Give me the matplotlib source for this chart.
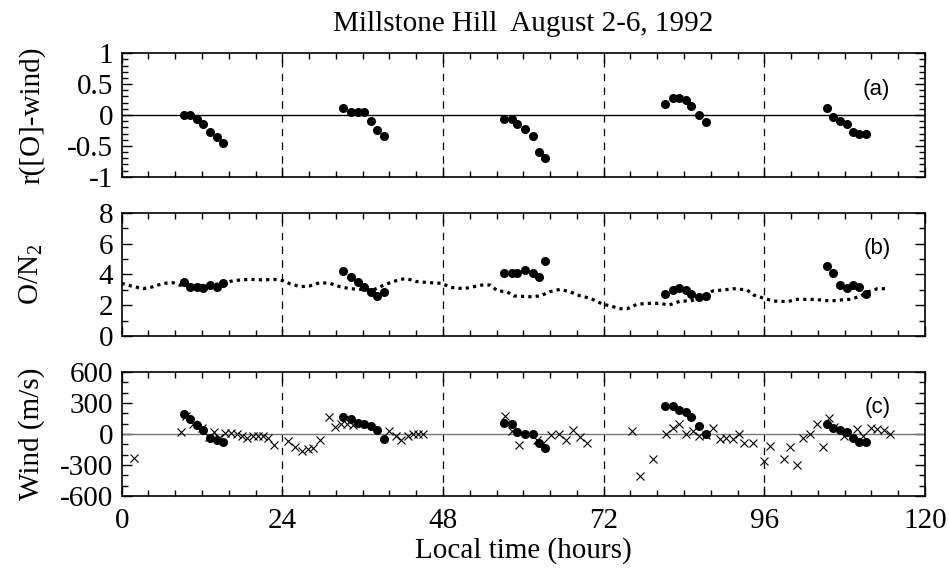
import numpy as np
import matplotlib.pyplot as plt
from matplotlib.ticker import MultipleLocator

# ---- data ----
# (a) correlation [O]-wind, 5 daily groups
corr_t = [9.3, 10.2, 11.3, 12.2, 13.2, 14.3, 15.2,
          33.1, 34.2, 35.3, 36.2, 37.3, 38.1, 39.2,
          57.1, 58.3, 59.1, 60.3, 61.4, 62.3, 63.3,
          81.2, 82.3, 83.2, 84.3, 85.1, 86.3, 87.3,
          105.3, 106.2, 107.3, 108.4, 109.2, 110.2, 111.2]
corr_v = [0.0, 0.0, -0.065, -0.15, -0.27, -0.36, -0.45,
          0.12, 0.054, 0.054, 0.054, -0.1, -0.24, -0.34,
          -0.065, -0.065, -0.15, -0.22, -0.34, -0.6, -0.69,
          0.18, 0.27, 0.27, 0.24, 0.15, 0.0, -0.12,
          0.12, -0.03, -0.09, -0.15, -0.27, -0.3, -0.3]

# (b) measured O/N2
on2_v = [3.5, 3.2, 3.2, 3.1, 3.33, 3.2, 3.46,
         4.2, 3.81, 3.5, 3.2, 2.88, 2.6, 2.86,
         4.07, 4.07, 4.07, 4.29, 4.07, 3.81, 4.89,
         2.73, 2.99, 3.1, 2.99, 2.73, 2.51, 2.6,
         4.55, 4.07, 3.33, 3.1, 3.33, 3.2, 2.73]

# (b) model O/N2 (dotted)
model_t = [0.0, 1.2, 3.2, 4.7, 6.2, 7.7, 8.7, 10.2, 13.2, 15.2, 16.7, 19.2,
           21.2, 22.7, 24.0, 25.2, 26.7, 28.1, 29.6, 31.1, 32.6, 34.1, 35.6,
           37.6, 38.6, 40.1, 41.6, 42.6, 44.1, 46.1, 47.8, 49.1, 51.1, 52.6,
           54.1, 55.1, 56.1, 57.6, 58.6, 61.0, 62.5, 64.0, 65.5, 67.0, 68.5,
           70.0, 71.8, 73.0, 74.5, 75.5, 77.0, 78.5, 80.5, 81.7, 83.5, 85.0,
           86.4, 88.4, 89.9, 91.4, 93.4, 94.4, 95.9, 97.4, 99.4, 100.9, 102.9,
           104.4, 105.9, 107.4, 108.9, 110.4, 111.6, 112.9, 114.6]
model_v = [3.42, 3.27, 3.07, 3.2, 3.42, 3.46, 3.3, 3.25, 3.3, 3.42, 3.6, 3.68,
           3.64, 3.68, 3.6, 3.38, 3.2, 3.25, 3.46, 3.42, 3.2, 3.07, 3.03,
           2.99, 3.2, 3.46, 3.68, 3.72, 3.53, 3.46, 3.42, 3.16, 3.07, 3.2,
           3.33, 3.3, 2.94, 2.86, 2.6, 2.55, 2.6, 2.88, 3.03, 2.86, 2.6,
           2.45, 2.08, 1.95, 1.77, 1.77, 2.06, 2.12, 2.12, 2.0, 2.27, 2.27,
           2.51, 2.94, 2.99, 3.07, 2.99, 2.66, 2.45, 2.27, 2.23, 2.38, 2.38,
           2.34, 2.27, 2.34, 2.38, 2.6, 2.88, 3.07, 3.07]

# (c) wind derived from [O] (dots)
windO_v = [198, 144, 86, 35, -41, -54, -73,
           163, 144, 108, 99, 73, 35, -51,
           108, 92, 22, 3, 3, -83, -140,
           268, 268, 230, 214, 163, 73, 3,
           93, 54, 35, 16, -35, -73, -73]

# (c) measured wind (crosses)
wind_t = [1.8, 8.8, 9.6, 10.6, 12.0, 13.1, 13.8, 14.6, 15.5, 16.3, 17.2, 18.0,
          18.7, 19.6, 20.4, 21.1, 21.8, 22.7, 24.9, 25.9, 26.9, 27.9, 28.6,
          29.7, 31.0, 31.9, 32.7, 33.6, 34.5, 39.9, 41.0, 41.7, 42.7, 43.5,
          44.2, 45.0, 57.2, 58.3, 59.3, 62.0, 63.0, 64.1, 65.3, 66.4, 67.4,
          68.4, 69.5, 76.3, 77.4, 79.4, 81.3, 82.4, 83.2, 84.3, 85.3, 86.3,
          87.3, 88.3, 89.4, 90.3, 91.3, 92.2, 93.0, 94.3, 95.9, 96.8, 98.9,
          99.8, 100.9, 101.8, 102.8, 103.9, 104.8, 105.6, 106.4, 107.9, 109.8,
          110.8, 112.0, 112.9, 113.9, 114.8]
wind_v = [-233, 19, 170, 93, 61, -29, 22, -35, 10, 10, -3, -19,
          -35, -16, -16, -16, -35, -105, -67, -124, -163, -150, -140,
          -55, 163, 67, 93, 93, 86, 29, -22, -61, -22, -3,
          3, 3, 179, 29, -108, -61, -83, -10, 3, -57, 35,
          -26, -89, 29, -411, -242, -3, 54, 93, 3, 29, -19,
          -13, 61, -45, -35, -51, -3, -86, -86, -265, -115, -246,
          -124, -297, -35, 3, 93, -124, 156, 67, -19, 45,
          -19, 61, 45, 35, 3]

day_marks = [24, 48, 72, 96]

plt.rcParams['font.family'] = 'Liberation Serif'
plt.rcParams['mathtext.fontset'] = 'custom'
plt.rcParams['mathtext.rm'] = 'Liberation Serif'
plt.rcParams['mathtext.it'] = 'Liberation Serif'
plt.rcParams['axes.unicode_minus'] = False

fig = plt.figure(figsize=(9.49, 5.74), dpi=100)
left, width = 0.1282, 0.8465
ax_a = fig.add_axes([left, 0.6922, width, 0.2149])
ax_b = fig.add_axes([left, 0.4146, width, 0.2148])
ax_c = fig.add_axes([left, 0.1359, width, 0.2160])

fs = 21
for ax in (ax_a, ax_b, ax_c):
    ax.set_xlim(0, 120)
    ax.xaxis.set_major_locator(MultipleLocator(24))
    ax.xaxis.set_minor_locator(MultipleLocator(4))
    ax.tick_params(which='both', direction='in', top=True, right=True, width=1)
    ax.tick_params(which='major', length=7, labelsize=fs)
    ax.tick_params(which='minor', length=4)
    ax.tick_params(axis='y', which='major', pad=6)
    ax.tick_params(axis='x', which='major', pad=9)
    for s in ax.spines.values():
        s.set_linewidth(1.2)
    for d in day_marks:
        ax.axvline(d, color='black', lw=0.9, ls=(0, (6, 5)))

lab_kw = dict(ha='right', va='center', family='Liberation Sans', fontsize=16)

# (a)
ax_a.axhline(0, color='black', lw=1)
ax_a.plot(corr_t, corr_v, 'o', color='black', ms=5.5)
ax_a.set_ylim(-1, 1)
ax_a.yaxis.set_minor_locator(MultipleLocator(0.1))
ax_a.set_yticks([-1, -0.5, 0, 0.5, 1])
ax_a.set_yticklabels(['-1', '-0.5', '0', '0.5', '1'])
ax_a.tick_params(labelbottom=False)
ax_a.set_ylabel('r([O]-wind)', fontsize=fs)
ax_a.text(0.957, 0.71, '(a)', transform=ax_a.transAxes, **lab_kw)
ax_a.set_title('Millstone Hill  August 2-6, 1992', fontsize=fs, pad=16)

# (b)
ax_b.plot(model_t, model_v, color='black', lw=2.3, ls=(0, (1, 1.3)))
ax_b.plot(corr_t, on2_v, 'o', color='black', ms=5.5)
ax_b.set_ylim(0, 8)
ax_b.yaxis.set_major_locator(MultipleLocator(2))
ax_b.yaxis.set_minor_locator(MultipleLocator(1))
ax_b.tick_params(labelbottom=False)
ax_b.set_ylabel('O/N$_2$', fontsize=fs)
ax_b.text(0.957, 0.71, '(b)', transform=ax_b.transAxes, **lab_kw)

# (c)
ax_c.axhline(0, color='#777777', lw=1)
ax_c.plot(corr_t, windO_v, 'o', color='black', ms=5.5)
ax_c.plot(wind_t, wind_v, 'x', color='black', ms=6, mew=0.8)
ax_c.set_ylim(-600, 600)
ax_c.yaxis.set_major_locator(MultipleLocator(300))
ax_c.yaxis.set_minor_locator(MultipleLocator(100))
ax_c.set_ylabel('Wind (m/s)', fontsize=fs)
ax_c.set_xlabel('Local time (hours)', fontsize=fs, labelpad=2)
ax_c.text(0.957, 0.71, '(c)', transform=ax_c.transAxes, **lab_kw)

for ax in (ax_a, ax_b, ax_c):
    ax.yaxis.set_label_coords(-0.095, 0.5)

fig.savefig('out.png', dpi=100)
